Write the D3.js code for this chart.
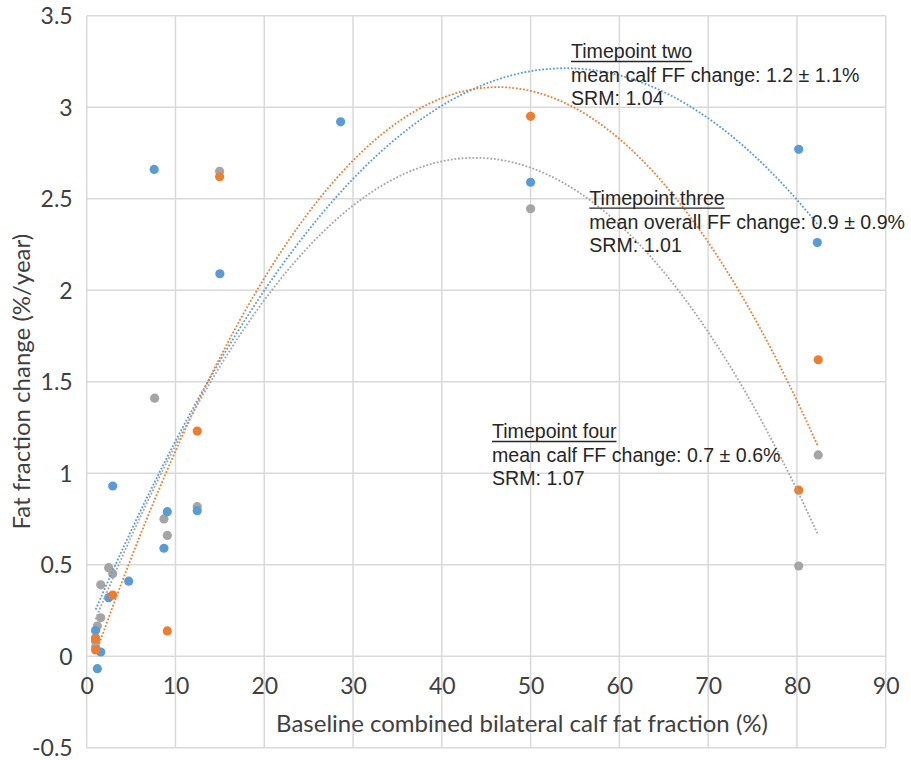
<!DOCTYPE html>
<html>
<head>
<meta charset="utf-8">
<script src="https://cdn.jsdelivr.net/npm/d3@7"></script>
<style>
  html, body { margin: 0; padding: 0; background: #fff; }
  svg { display: block; }
</style>
</head>
<body>
<svg id="chart" width="911" height="760"></svg>
<script>
// ---- Data ----
const xTicks = [0, 10, 20, 30, 40, 50, 60, 70, 80, 90];
const yTicks = [-0.5, 0, 0.5, 1, 1.5, 2, 2.5, 3, 3.5];

const seriesNames = ["Timepoint two", "Timepoint three", "Timepoint four"];
const seriesColors = ["#5B9BD5", "#ED7D31", "#A5A5A5"];

// Timepoint two (blue)
const tp2X = [1.0, 1.0, 1.2, 1.58, 2.47, 2.93, 4.73, 7.6, 8.7, 9.08, 12.45, 15.0, 28.6, 50.0, 80.2, 82.3];
const tp2Y = [0.14, 0.10, -0.068, 0.023, 0.32, 0.93, 0.41, 2.66, 0.59, 0.79, 0.795, 2.09, 2.92, 2.59, 2.77, 2.26];

// Timepoint three (orange)
const tp3X = [1.0, 1.0, 2.93, 9.08, 12.45, 14.97, 50.0, 80.2, 82.4];
const tp3Y = [0.096, 0.034, 0.334, 0.138, 1.23, 2.62, 2.95, 0.907, 1.62];

// Timepoint four (gray)
const tp4X = [1.0, 1.0, 1.2, 1.58, 1.58, 2.47, 2.93, 7.65, 8.7, 9.08, 12.45, 14.97, 50.0, 80.2, 82.4];
const tp4Y = [0.08, 0.05, 0.165, 0.21, 0.39, 0.484, 0.45, 1.41, 0.75, 0.66, 0.817, 2.65, 2.445, 0.493, 1.10];

const annotations = [
  ["Timepoint two", "mean calf FF change: 1.2 ± 1.1%", "SRM: 1.04"],
  ["Timepoint three", "mean overall FF change: 0.9 ± 0.9%", "SRM: 1.01"],
  ["Timepoint four", "mean calf FF change: 0.7 ± 0.6%", "SRM: 1.07"]
];

const xTitle = "Baseline combined bilateral calf fat fraction (%)";
const yTitle = "Fat fraction change (%/year)";

// ---- Layout ----
const svg = d3.select("#chart");
const pLeft = 86.7, pRight = 885.7, pTop = 15.7, pBottom = 747.7;
const x = d3.scaleLinear().domain([0, 90]).range([pLeft, pRight]);
const y = d3.scaleLinear().domain([-0.5, 3.5]).range([pBottom, pTop]);

const labelFont = "Lato, 'Open Sans', sans-serif";
const annFont = "'Liberation Sans', Arial, sans-serif";
const gridColor = "#D9D9D9";
const textColor = "#404040";

// Gridlines
svg.append("g")
  .selectAll("line").data(xTicks).join("line")
  .attr("x1", d => x(d)).attr("x2", d => x(d))
  .attr("y1", pTop).attr("y2", pBottom)
  .attr("stroke", gridColor).attr("stroke-width", 1.5);
svg.append("g")
  .selectAll("line").data(yTicks).join("line")
  .attr("x1", pLeft).attr("x2", pRight)
  .attr("y1", d => y(d)).attr("y2", d => y(d))
  .attr("stroke", gridColor).attr("stroke-width", 1.5);

// X axis labels (axis crosses at y = 0)
const xAxis = svg.append("g")
  .attr("transform", `translate(0,${y(0)})`)
  .call(d3.axisBottom(x).tickValues(xTicks).tickSize(0).tickFormat(d3.format("d")));
xAxis.select(".domain").remove();
xAxis.selectAll("text")
  .attr("y", 38).attr("dy", null)
  .attr("font-family", labelFont).attr("font-size", 23).attr("fill", textColor);

// Y axis labels
const yAxis = svg.append("g")
  .attr("transform", `translate(${pLeft},0)`)
  .call(d3.axisLeft(y).tickValues(yTicks).tickSize(0).tickPadding(14)
    .tickFormat(d => String(d)));
yAxis.select(".domain").remove();
yAxis.selectAll("text")
  .attr("font-family", labelFont).attr("font-size", 23).attr("fill", textColor)
  .attr("dy", "0.36em");

// Axis titles
svg.append("text")
  .attr("x", 522).attr("y", 731.5)
  .attr("text-anchor", "middle")
  .attr("font-family", labelFont).attr("font-size", 24).attr("fill", textColor)
  .text(xTitle);
svg.append("text")
  .attr("transform", `translate(30,${(pTop + pBottom) / 2}) rotate(-90)`)
  .attr("text-anchor", "middle")
  .attr("font-family", labelFont).attr("font-size", 24).attr("fill", textColor)
  .text(yTitle);

// Quadratic least squares fit (Excel-style polynomial trendline, order 2)
function quadFit(xs, ys) {
  const n = xs.length;
  let s = [0, 0, 0, 0, 0], t = [0, 0, 0];
  for (let i = 0; i < n; i++) {
    const xi = xs[i], yi = ys[i];
    for (let k = 0; k < 5; k++) s[k] += Math.pow(xi, k);
    for (let k = 0; k < 3; k++) t[k] += yi * Math.pow(xi, k);
  }
  const A = [[s[0], s[1], s[2], t[0]], [s[1], s[2], s[3], t[1]], [s[2], s[3], s[4], t[2]]];
  for (let i = 0; i < 3; i++) {
    let p = i;
    for (let r = i + 1; r < 3; r++) if (Math.abs(A[r][i]) > Math.abs(A[p][i])) p = r;
    [A[i], A[p]] = [A[p], A[i]];
    for (let r = 0; r < 3; r++) {
      if (r === i) continue;
      const f = A[r][i] / A[i][i];
      for (let c = i; c < 4; c++) A[r][c] -= f * A[i][c];
    }
  }
  return [A[0][3] / A[0][0], A[1][3] / A[1][1], A[2][3] / A[2][2]];
}

const series = [
  { xs: tp2X, ys: tp2Y, color: seriesColors[0] },
  { xs: tp3X, ys: tp3Y, color: seriesColors[1] },
  { xs: tp4X, ys: tp4Y, color: seriesColors[2] }
];

// Points: draw gray, blue, orange order
const drawOrder = [2, 0, 1];
drawOrder.forEach(i => {
  const s = series[i];
  const pts = s.xs.map((v, j) => [v, s.ys[j]]);
  svg.append("g").selectAll("circle").data(pts).join("circle")
    .attr("cx", d => x(d[0])).attr("cy", d => y(d[1])).attr("r", 4.6)
    .attr("fill", s.color);
});

// Trendlines
const line = d3.line().x(d => x(d[0])).y(d => y(d[1])).curve(d3.curveLinear);
series.forEach(s => {
  const c = quadFit(s.xs, s.ys);
  const x0 = d3.min(s.xs), x1 = d3.max(s.xs);
  const pts = d3.range(0, 201).map(k => {
    const xv = x0 + (x1 - x0) * k / 200;
    return [xv, c[0] + c[1] * xv + c[2] * xv * xv];
  });
  svg.append("path").datum(pts)
    .attr("d", line).attr("fill", "none")
    .attr("stroke", s.color).attr("stroke-width", 1.8)
    .attr("stroke-dasharray", "1.8 1.8");
});

// Annotations
const annPos = [[571, 58.3], [589.3, 205], [492, 438.3]];
annotations.forEach((lines, i) => {
  const [ax, ay] = annPos[i];
  const g = svg.append("g");
  lines.forEach((t, j) => {
    const el = g.append("text")
      .attr("x", ax).attr("y", ay + j * 23.5)
      .attr("font-family", annFont).attr("font-size", 19.6).attr("fill", "#262626")
      .text(t);
    if (j === 0) {
      const w = el.node().getComputedTextLength();
      g.append("line")
        .attr("x1", ax).attr("x2", ax + w)
        .attr("y1", ay + 3.2).attr("y2", ay + 3.2)
        .attr("stroke", "#262626").attr("stroke-width", 1.3);
    }
  });
});
</script>
</body>
</html>
